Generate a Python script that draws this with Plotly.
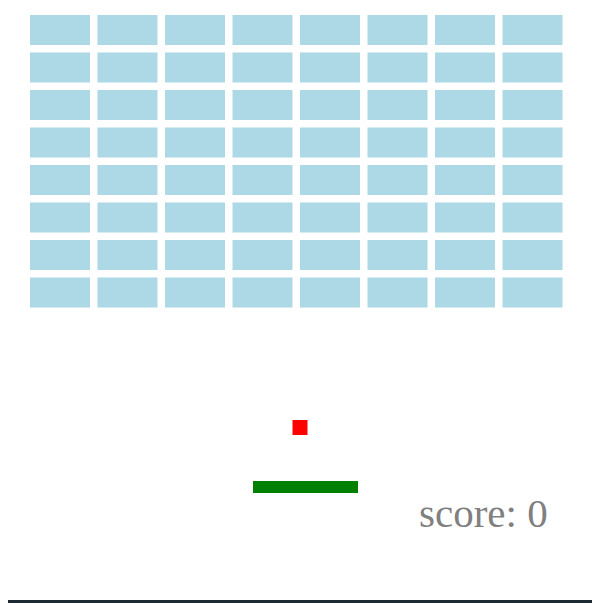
import plotly.graph_objects as go

# estado do jogo
colunas = [0, 1, 2, 3, 4, 5, 6, 7]
linhas = [0, 1, 2, 3, 4, 5, 6, 7]
bola_x = 300
bola_y = 420
raquete_x = 253
raquete_y = 481
pontos = 0

# medidas do tabuleiro (em pixels da pagina)
LARG, ALT = 600, 603
MARGEM = 8  # margem padrao do body no html
TIJ_W, TIJ_H = 60, 30
TIJ_X0, TIJ_Y0 = 30, 15
PASSO_X, PASSO_Y = 67.5, 37.5
BOLA = 15
RAQ_W, RAQ_H = 105, 12

#montar os tijolos
tx, tb = [], []
for l in linhas:
    for c in colunas:
        tx.append(TIJ_X0 + c * PASSO_X + TIJ_W / 2)
        tb.append(TIJ_Y0 + l * PASSO_Y)

fig = go.Figure()
fig.add_trace(go.Bar(
    x=tx, y=[TIJ_H] * len(tx), base=tb, width=TIJ_W,
    marker=dict(color='#add8e6', line=dict(width=0)),
    hoverinfo='skip'
))
fig.add_trace(go.Bar(
    x=[bola_x], y=[BOLA], base=[bola_y], width=BOLA,
    marker=dict(color='red', line=dict(width=0)),
    hoverinfo='skip'
))
fig.add_trace(go.Bar(
    x=[raquete_x + RAQ_W / 2], y=[RAQ_H], base=[raquete_y], width=RAQ_W,
    marker=dict(color='green', line=dict(width=0)),
    hoverinfo='skip'
))

fig.add_annotation(
    x=550, y=538, xref='x', yref='y', xanchor='right', yanchor='bottom',
    text='score: %d' % pontos, showarrow=False,
    font=dict(family='Liberation Serif', size=41, color='gray')
)

# linha escura embaixo
fig.add_shape(type='rect', xref='paper', yref='y', x0=0, x1=1, y0=600, y1=603,
              fillcolor='#1e2a33', line=dict(width=0), layer='above')

fig.update_layout(
    width=LARG - MARGEM, height=ALT - MARGEM,
    margin=dict(l=0, r=0, t=0, b=0),
    barmode='overlay', showlegend=False,
    plot_bgcolor='white', paper_bgcolor='white',
    xaxis=dict(range=[MARGEM, LARG], visible=False, fixedrange=True),
    yaxis=dict(range=[ALT, MARGEM], visible=False, fixedrange=True),
)

fig.write_html("out.html", config={'displayModeBar': False})
